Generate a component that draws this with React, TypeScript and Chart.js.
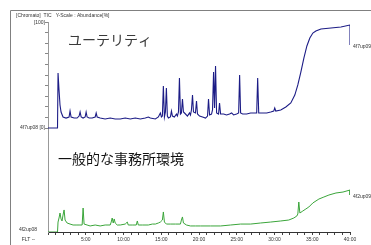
import React, { useEffect, useRef } from "react";
import { Chart, registerables } from "chart.js";

Chart.register(...registerables);

// Retention time (min) and abundance (%) — "ユーテリティ" (blue) trace
const blueTime = [0, 1.26, 1.33, 1.46, 1.59, 1.73, 1.99, 2.39, 2.79, 2.92, 3.06, 3.46, 3.85, 4.12, 4.25, 4.39, 4.65, 4.92, 5.05, 5.18, 5.45, 5.85, 6.25, 6.38, 6.51, 6.91, 7.57, 8.24, 8.9, 9.57, 10.23, 10.9, 11.56, 12.23, 12.89, 13.29, 13.55, 14.22, 14.62, 14.88, 15.02, 15.15, 15.28, 15.42, 15.55, 15.68, 15.81, 15.95, 16.21, 16.35, 16.48, 16.74, 17.01, 17.14, 17.28, 17.41, 17.54, 17.67, 17.81, 17.94, 18.21, 18.47, 18.74, 18.87, 19.0, 19.14, 19.27, 19.53, 19.67, 19.8, 20.07, 20.47, 20.86, 21.13, 21.26, 21.4, 21.66, 21.79, 21.93, 22.06, 22.19, 22.33, 22.59, 22.72, 22.86, 23.26, 23.65, 24.05, 24.32, 24.58, 24.98, 25.25, 25.38, 25.51, 25.78, 26.31, 26.84, 27.24, 27.64, 27.77, 27.91, 28.44, 28.97, 29.5, 29.9, 30.03, 30.17, 30.83, 31.5, 32.16, 32.69, 33.09, 33.49, 33.89, 34.29, 34.68, 35.08, 35.48, 36.15, 37.48, 38.8, 40.0, 40.0];
const blueAbund = [0, 0, 51.9, 35.8, 21.7, 15.1, 10.4, 9.4, 10.4, 16.0, 10.4, 9.4, 9.4, 11.3, 15.1, 10.4, 9.4, 10.4, 15.1, 10.4, 9.4, 9.4, 10.4, 14.2, 10.4, 9.4, 8.5, 9.4, 8.5, 8.5, 9.4, 8.5, 9.4, 8.5, 9.4, 10.4, 9.4, 8.5, 10.4, 14.2, 10.4, 11.3, 39.6, 10.4, 15.1, 37.7, 11.3, 9.4, 10.4, 16.0, 11.3, 10.4, 13.2, 11.3, 15.1, 47.2, 13.2, 14.2, 27.4, 15.1, 13.2, 11.3, 14.2, 12.3, 17.0, 31.1, 15.1, 14.2, 25.5, 13.2, 11.3, 10.4, 9.4, 11.3, 27.4, 12.3, 13.2, 17.0, 52.8, 18.9, 58.5, 14.2, 13.2, 23.6, 13.2, 13.2, 12.3, 13.2, 14.2, 12.3, 13.2, 14.2, 50.0, 14.2, 13.2, 13.2, 14.2, 14.2, 14.2, 47.2, 14.2, 14.2, 14.2, 15.1, 16.0, 18.9, 16.0, 17.0, 19.8, 23.6, 31.1, 40.6, 52.8, 66.0, 77.4, 84.9, 89.6, 91.5, 93.4, 94.3, 95.3, 97.2, 78.3];

// "一般的な事務所環境" (green) trace
const greenTime = [0, 1.26, 1.33, 1.46, 1.59, 1.73, 1.86, 1.99, 2.13, 2.26, 2.53, 2.92, 3.32, 3.72, 4.12, 4.52, 4.65, 4.78, 5.18, 5.58, 6.25, 6.91, 7.57, 8.24, 8.37, 8.5, 8.64, 8.77, 8.9, 9.17, 9.57, 10.23, 10.5, 10.63, 11.16, 11.69, 11.83, 11.96, 12.49, 13.29, 13.82, 14.22, 14.62, 14.88, 15.15, 15.28, 15.42, 15.68, 16.21, 16.88, 17.54, 17.67, 17.81, 17.94, 18.34, 18.87, 19.53, 20.2, 21.53, 22.86, 24.19, 25.51, 26.84, 28.17, 29.5, 30.83, 31.89, 32.56, 32.96, 33.09, 33.22, 33.36, 33.75, 34.15, 34.55, 35.08, 35.88, 36.54, 37.21, 38.14, 39.07, 40.0, 40.0];
const greenAbund = [0, 0, 9.4, 13.2, 17.9, 12.3, 10.4, 16.0, 20.8, 11.3, 8.5, 7.5, 6.6, 6.6, 6.6, 6.6, 22.6, 7.5, 6.6, 5.7, 6.6, 5.7, 6.6, 6.6, 9.4, 13.2, 8.5, 12.3, 8.5, 6.6, 6.6, 7.5, 9.4, 6.6, 6.6, 6.6, 10.4, 6.6, 6.6, 6.6, 7.5, 7.5, 8.5, 9.4, 11.3, 18.9, 9.4, 7.5, 7.5, 7.5, 7.5, 11.3, 14.2, 8.5, 6.6, 5.7, 5.7, 5.7, 5.7, 5.7, 6.6, 7.5, 7.5, 8.5, 9.4, 10.4, 11.3, 13.2, 15.1, 17.0, 28.3, 17.9, 19.8, 21.7, 23.6, 27.4, 31.1, 33.0, 34.9, 36.8, 37.7, 39.6, 34.9];

const blueTicks = [0, 10, 20, 30, 40, 50, 60, 70, 80, 90, 100];
const timeLabelEvery = 5;

const titleBlue = "ユーテリティ";
const titleGreen = "一般的な事務所環境";
const header = "[Chromato]  TIC   Y-Scale : Abundance[%]";

const BLUE = "#1c1c86";
const GREEN = "#3aa53a";

const toPts = (xs: number[], ys: number[]) => xs.map((x, i) => ({ x, y: ys[i] }));

const textPlugin = {
  id: "texts",
  afterDraw(chart: any) {
    const ctx = chart.ctx;
    const xs = chart.scales.x;
    const yb = chart.scales.yb;
    const yg = chart.scales.yg;
    ctx.save();
    // frame
    ctx.strokeStyle = "#808080";
    ctx.lineWidth = 1;
    ctx.beginPath();
    ctx.moveTo(10.5, 245);
    ctx.lineTo(10.5, 10.5);
    ctx.lineTo(371, 10.5);
    ctx.stroke();

    ctx.fillStyle = "#333";
    ctx.font = "5px 'Liberation Sans', Arial, sans-serif";
    ctx.textBaseline = "middle";
    ctx.textAlign = "left";
    ctx.fillText(header, 16, 16);
    ctx.textAlign = "right";
    ctx.fillText("[100]", 45, yb.getPixelForValue(100) + 1);
    ctx.fillText("4f7up08 [0]", 45, yb.getPixelForValue(0));
    ctx.fillText("4f2up08", 37, yg.getPixelForValue(0) - 2);
    ctx.fillText("FLT --", 35, 240);
    ctx.textAlign = "left";
    const xEnd = xs.getPixelForValue(40);
    ctx.fillText("4f7up09", xEnd + 3, yb.getPixelForValue(blueAbund[blueAbund.length - 1]) + 2);
    ctx.fillText("4f2up09", xEnd + 3, yg.getPixelForValue(greenAbund[greenAbund.length - 1]) + 2);

    ctx.font = "14px 'Noto Sans CJK JP', sans-serif";
    ctx.fillStyle = "#3a3a3a";
    ctx.fillText(titleBlue, 68, 40);
    ctx.fillStyle = "#111";
    ctx.fillText(titleGreen, 58, 159);
    ctx.restore();
  },
};

export default function App() {
  const ref = useRef<HTMLCanvasElement>(null);
  useEffect(() => {
    if (!ref.current) return;
    const chart = new Chart(ref.current, {
      type: "line",
      data: {
        datasets: [
          {
            label: titleBlue,
            data: toPts(blueTime, blueAbund),
            yAxisID: "yb",
            borderColor: BLUE,
            borderWidth: 1.1,
            pointRadius: 0,
            tension: 0,
          },
          {
            label: titleGreen,
            data: toPts(greenTime, greenAbund),
            yAxisID: "yg",
            borderColor: GREEN,
            borderWidth: 1,
            pointRadius: 0,
            tension: 0,
          },
        ],
      },
      options: {
        responsive: false,
        animation: false,
        events: [],
        layout: { padding: { left: 44, top: 22, right: 21, bottom: 0 } },
        plugins: { legend: { display: false }, tooltip: { enabled: false } },
        scales: {
          x: {
            type: "linear",
            min: 0,
            max: 40,
            afterFit: (s: any) => {
              s.height = 13;
            },
            afterBuildTicks: (s: any) => {
              const t = [];
              for (let v = 0; v <= 40; v++) t.push({ value: v });
              s.ticks = t;
            },
            ticks: {
              autoSkip: false,
              maxRotation: 0,
              padding: 2,
              color: "#333",
              font: { size: 5, family: "'Liberation Sans', Arial, sans-serif" },
              callback: (v: any) =>
                v > 0 && v % timeLabelEvery === 0 ? `${v}:00` : "",
            },
            grid: { drawOnChartArea: false, drawTicks: true, tickLength: 3, color: "#444" },
            border: { display: true, color: "#333", width: 1 },
          },
          yb: {
            type: "linear",
            position: "left",
            min: -98.1,
            max: 100,
            afterFit: (s: any) => {
              s.width = 4;
            },
            afterBuildTicks: (s: any) => {
              s.ticks = blueTicks.map((v) => ({ value: v }));
            },
            ticks: { display: false },
            grid: { drawOnChartArea: false, drawTicks: true, tickLength: 3, color: "#888" },
            border: { display: true, color: "#999", width: 1 },
          },
          yg: {
            type: "linear",
            display: false,
            min: 0,
            max: 198.1,
          },
        },
      },
      plugins: [textPlugin],
    });
    return () => chart.destroy();
  }, []);
  return (
    <div style={{ position: "absolute", left: 0, top: 0, width: 371, height: 245, background: "#fff" }}>
      <canvas ref={ref} width={371} height={245} style={{ display: "block" }} />
    </div>
  );
}
